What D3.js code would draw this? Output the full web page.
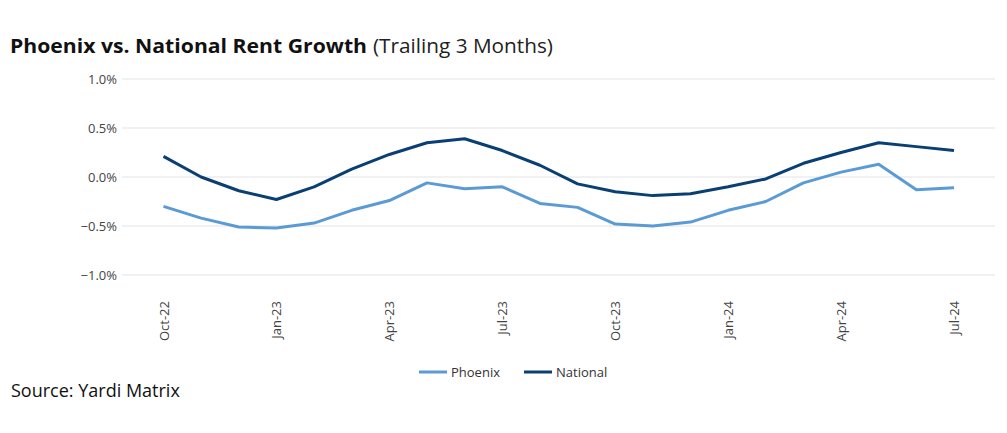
<!DOCTYPE html>
<html><head><meta charset="utf-8">
<script src="https://cdn.jsdelivr.net/npm/d3@7"></script>
<style>
html,body{margin:0;padding:0;background:#fff;}
svg{display:block;font-family:"Open Sans",sans-serif;}
</style></head>
<body><svg id="chart" width="1007" height="433"></svg>
<script>
const months = ["Oct-22","Nov-22","Dec-22","Jan-23","Feb-23","Mar-23","Apr-23","May-23","Jun-23","Jul-23","Aug-23","Sep-23",
  "Oct-23","Nov-23","Dec-23","Jan-24","Feb-24","Mar-24","Apr-24","May-24","Jun-24","Jul-24"];
const tickLabels = ["Oct-22","Jan-23","Apr-23","Jul-23","Oct-23","Jan-24","Apr-24","Jul-24"];
const phoenix = [-0.30,-0.42,-0.51,-0.52,-0.47,-0.34,-0.24,-0.06,-0.12,-0.10,-0.27,-0.31,
  -0.48,-0.50,-0.46,-0.34,-0.25,-0.06,0.05,0.13,-0.13,-0.11];
const national = [0.21,0.00,-0.14,-0.23,-0.10,0.08,0.23,0.35,0.39,0.27,0.12,-0.07,
  -0.15,-0.19,-0.17,-0.10,-0.02,0.14,0.25,0.35,0.31,0.27];
const yTicks = [1.0,0.5,0.0,-0.5,-1.0];
const seriesNames = ["Phoenix","National"];
const colors = ["#5b9bd5","#0a3f73"];

const svg = d3.select("#chart");
const plot = {left:122, right:995, top:79, bottom:275};
const FONT = "'Open Sans',sans-serif";

const x = d3.scalePoint().domain(months).range([163.5, 954]);
const y = d3.scaleLinear().domain([-1,1]).range([plot.bottom, plot.top]);

// title
const title = svg.append("text").attr("x",10).attr("y",53).attr("fill","#111").style("font-size","20px");
title.append("tspan").attr("font-weight","bold").attr("textLength",357).attr("lengthAdjust","spacingAndGlyphs").text("Phoenix vs. National Rent Growth");
title.append("tspan").attr("font-weight","normal").attr("fill","#222").attr("dx",6).attr("textLength",180).attr("lengthAdjust","spacingAndGlyphs").text("(Trailing 3 Months)");

// grid + y axis
const yAxis = d3.axisLeft(y).tickValues(yTicks).tickSize(0).tickPadding(5)
  .tickFormat(d => d3.format(".1f")(d) + "%");
const gy = svg.append("g").attr("transform",`translate(${plot.left},0)`).call(yAxis);
gy.select(".domain").remove();
gy.selectAll("text").attr("fill","#444").style("font-size","13px").style("font-family",FONT);
svg.append("g").selectAll("line").data(yTicks).join("line")
  .attr("x1",plot.left).attr("x2",plot.right)
  .attr("y1",d=>y(d)).attr("y2",d=>y(d))
  .attr("stroke","#e3e3e3").attr("stroke-width",1);

// x axis
const xAxis = d3.axisBottom(x).tickValues(tickLabels).tickSize(0);
const gx = svg.append("g").attr("transform",`translate(0,${plot.bottom})`).call(xAxis);
gx.select(".domain").remove();
gx.selectAll("text").attr("transform","rotate(-90)")
  .attr("text-anchor","end").attr("x",-26).attr("y",0).attr("dy","0.35em")
  .attr("fill","#444").style("font-size","13px").style("font-family",FONT);

// lines
const line = d3.line().x((d,i)=>x(months[i])).y(d=>y(d));
[phoenix, national].forEach((s,k)=>{
  svg.append("path").datum(s).attr("d",line).attr("fill","none")
    .attr("stroke",colors[k]).attr("stroke-width",3).attr("stroke-linejoin","round");
});

// legend
const legX = [419, 524];
seriesNames.forEach((n,k)=>{
  const g = svg.append("g").attr("transform",`translate(${legX[k]},372)`);
  g.append("line").attr("x1",0).attr("x2",28).attr("stroke",colors[k]).attr("stroke-width",3);
  g.append("text").attr("x",32).attr("dy","0.35em").attr("fill","#333").style("font-size","13px").text(n);
});

// source
svg.append("text").attr("x",11).attr("y",397).attr("fill","#111").style("font-size","18px").text("Source: Yardi Matrix");
</script></body></html>
